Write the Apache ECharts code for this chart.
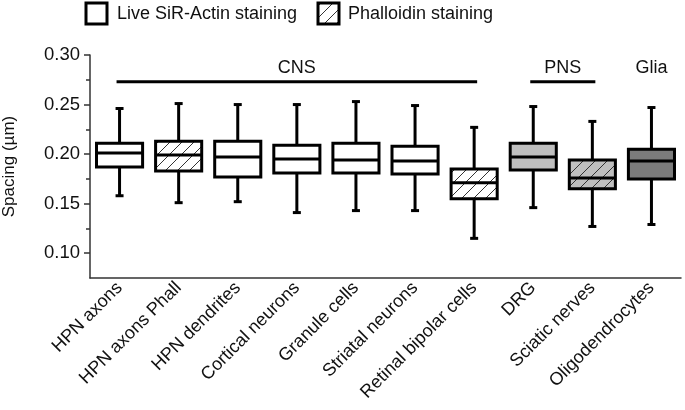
<!DOCTYPE html>
<html>
<head>
<meta charset="utf-8">
<script src="https://cdn.jsdelivr.net/npm/echarts@6/dist/echarts.min.js"></script>
<style>
  html, body { margin: 0; padding: 0; background: #fff; }
  #chart { width: 685px; height: 410px; }
</style>
</head>
<body>
<div id="chart"></div>
<script>
// data
const categories = ['HPN axons', 'HPN axons Phall', 'HPN dendrites', 'Cortical neurons', 'Granule cells',
  'Striatal neurons', 'Retinal bipolar cells', 'DRG', 'Sciatic nerves', 'Oligodendrocytes']
const whiskerLow = [0.158, 0.151, 0.152, 0.141, 0.143, 0.143, 0.115, 0.146, 0.127, 0.129]
const q1 = [0.187, 0.183, 0.177, 0.181, 0.181, 0.180, 0.155, 0.184, 0.165, 0.175]
const median = [0.201, 0.199, 0.197, 0.195, 0.194, 0.193, 0.171, 0.197, 0.176, 0.193]
const q3 = [0.211, 0.213, 0.213, 0.209, 0.211, 0.208, 0.185, 0.211, 0.194, 0.205]
const whiskerHigh = [0.246, 0.251, 0.250, 0.250, 0.253, 0.249, 0.227, 0.248, 0.233, 0.247]
const groupNames = ['CNS', 'PNS', 'Glia']
const groupFrom = [0, 7, 9]
const groupTo = [6, 8, 9]
const yTicks = [0.10, 0.15, 0.20, 0.25, 0.30]
const yMinorTicks = [0.125, 0.175, 0.225, 0.275]

// styling per box
const boxFill = ['#fff', '#fff', '#fff', '#fff', '#fff', '#fff', '#fff', '#bfbfbf', '#bfbfbf', '#7b7b7b']
const hatched = [false, true, false, false, false, false, true, false, true, false]

const FONT = '"Liberation Sans", Arial, sans-serif'

function hatch(bg) {
  const s = 12
  const c = document.createElement('canvas')
  c.width = s; c.height = s
  const ctx = c.getContext('2d')
  ctx.fillStyle = bg
  ctx.fillRect(0, 0, s, s)
  ctx.strokeStyle = '#333'
  ctx.lineWidth = 1
  ctx.beginPath()
  ctx.moveTo(-1, s + 1); ctx.lineTo(s + 1, -1)
  ctx.moveTo(-1, 1); ctx.lineTo(1, -1)
  ctx.moveTo(s - 1, s + 1); ctx.lineTo(s + 1, s - 1)
  ctx.stroke()
  return { image: c, repeat: 'repeat' }
}

function fillFor(i) {
  return hatched[i] ? hatch(boxFill[i]) : boxFill[i]
}

const boxData = categories.map((c, i) => [i, whiskerLow[i], q1[i], median[i], q3[i], whiskerHigh[i]])
const groupData = groupNames.map((g, k) => [groupFrom[k], groupTo[k], k])

function renderBox(params, api) {
  const i = api.value(0)
  const band = api.size([1, 0])[0]
  const hw = band * 0.39
  const cw = 4
  const x = api.coord([i, 0])[0]
  const yLow = api.coord([i, api.value(1)])[1]
  const yQ1 = api.coord([i, api.value(2)])[1]
  const yMed = api.coord([i, api.value(3)])[1]
  const yQ3 = api.coord([i, api.value(4)])[1]
  const yHigh = api.coord([i, api.value(5)])[1]
  const ls = { stroke: '#000', lineWidth: 3 }
  return {
    type: 'group',
    children: [
      { type: 'line', shape: { x1: x, y1: yHigh, x2: x, y2: yLow }, style: ls },
      { type: 'line', shape: { x1: x - cw, y1: yHigh, x2: x + cw, y2: yHigh }, style: ls },
      { type: 'line', shape: { x1: x - cw, y1: yLow, x2: x + cw, y2: yLow }, style: ls },
      { type: 'rect', shape: { x: x - hw, y: yQ3, width: hw * 2, height: yQ1 - yQ3 },
        style: { fill: fillFor(i), stroke: '#000', lineWidth: 3 } },
      { type: 'line', shape: { x1: x - hw, y1: yMed, x2: x + hw, y2: yMed }, style: ls }
    ]
  }
}

function renderGroup(params, api) {
  const from = api.value(0)
  const to = api.value(1)
  const name = groupNames[api.value(2)]
  const a = api.coord([from, 0.273])
  const b = api.coord([to, 0.273])
  const t = api.coord([(from + to) / 2, 0.287])
  const children = [{
    type: 'text',
    style: { text: name, x: (a[0] + b[0]) / 2, y: t[1], align: 'center', verticalAlign: 'middle',
      font: '18px ' + FONT, fill: '#111' }
  }]
  if (to > from) {
    children.push({ type: 'line', shape: { x1: a[0] - 3, y1: a[1], x2: b[0] + 3, y2: b[1] },
      style: { stroke: '#000', lineWidth: 3 } })
  }
  return { type: 'group', children: children }
}

const chart = echarts.init(document.getElementById('chart'))
chart.setOption({
  animation: false,
  grid: { left: 90, right: 4, top: 55, bottom: 132, outerBoundsMode: 'none', containLabel: false },
  graphic: [
    { type: 'rect', shape: { x: 86, y: 3, width: 21, height: 21 }, style: { fill: '#fff', stroke: '#000', lineWidth: 3 } },
    { type: 'text', style: { text: 'Live SiR-Actin staining', x: 117, y: 14, verticalAlign: 'middle', font: '18px ' + FONT, fill: '#111' } },
    { type: 'rect', shape: { x: 318, y: 3, width: 21, height: 21 }, style: { fill: hatch('#fff'), stroke: '#000', lineWidth: 3 } },
    { type: 'text', style: { text: 'Phalloidin staining', x: 348, y: 14, verticalAlign: 'middle', font: '18px ' + FONT, fill: '#111' } }
  ],
  xAxis: {
    type: 'category',
    data: categories,
    axisLine: { lineStyle: { color: '#333', width: 1.5 } },
    axisTick: { alignWithLabel: true, length: 5, lineStyle: { color: '#333', width: 1.5 } },
    axisLabel: { interval: 0, rotate: 45, margin: 7, color: '#111', fontSize: 18, fontFamily: FONT }
  },
  yAxis: [{
    type: 'value',
    min: 0.075,
    max: 0.30,
    name: 'Spacing (µm)',
    nameLocation: 'middle',
    nameGap: 72,
    nameTextStyle: { color: '#111', fontSize: 17, fontFamily: FONT },
    splitLine: { show: false },
    axisLine: { show: true, lineStyle: { color: '#333', width: 1.5 } },
    axisTick: { show: true, customValues: yTicks, length: 6, lineStyle: { color: '#333', width: 1.5 } },
    axisLabel: { customValues: yTicks, formatter: v => v.toFixed(2), color: '#111', fontSize: 18.5, fontFamily: FONT, margin: 10 }
  }, {
    type: 'value',
    min: 0.075,
    max: 0.30,
    position: 'left',
    splitLine: { show: false },
    axisLine: { show: false },
    axisTick: { show: true, customValues: yMinorTicks, length: 4, lineStyle: { color: '#333', width: 1.5 } },
    axisLabel: { show: false }
  }],
  series: [{
    type: 'custom',
    name: 'boxes',
    renderItem: renderBox,
    data: boxData,
    encode: { x: 0, y: [1, 2, 3, 4, 5] },
    clip: false
  }, {
    type: 'custom',
    name: 'groups',
    renderItem: renderGroup,
    data: groupData,
    encode: { x: [0, 1] },
    clip: false,
    silent: true
  }]
})
</script>
</body>
</html>
